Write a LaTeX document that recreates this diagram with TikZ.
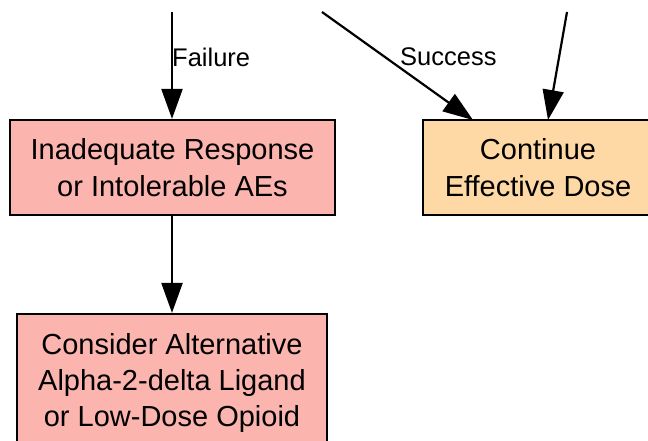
\documentclass[tikz,border=0pt]{standalone}
\usepackage{fontspec}
\setmainfont{Liberation Sans}
\usetikzlibrary{arrows.meta}

\definecolor{failpink}{HTML}{FBB4AE}
\definecolor{okorange}{HTML}{FED9A6}

\tikzset{
	box/.style={draw=black, line width=2.2pt, inner sep=0pt, align=center,
		font=\fontsize{29}{36.3}\selectfont},
	flow/.style={line width=2.2pt, -{Triangle[length=30pt, width=21pt]}},
	edgelab/.style={inner sep=0pt, anchor=west, font=\fontsize{25.5}{30}\selectfont}
}

\begin{document}
\begin{tikzpicture}[x=1pt, y=-1pt]
		%%%%% START %%%%%
		
		\useasboundingbox (0, 0) rectangle (648, 440);
		\clip (0, 0) rectangle (648, 440);
		
		\coordinate (failtop) at (172, 12);
		\coordinate (succtop) at (322, 12);
		\coordinate (righttop) at (567, 12);
		
		\node[box, fill=failpink, minimum width=325pt, minimum height=95pt] (inadequate) at (172.5, 167.5) {Inadequate Response\\or Intolerable AEs};
		\node[box, fill=okorange, minimum width=230pt, minimum height=95pt] (continue) at (538, 167.5) {Continue\\Effective Dose};
		\node[box, fill=failpink, minimum width=310pt, minimum height=138pt] (consider) at (172, 383) {Consider Alternative\\Alpha-2-delta Ligand\\or Low-Dose Opioid};
		
		\draw[flow] (failtop) -- (failtop |- inadequate.north);
		\draw[flow] (succtop) -- (473, 120);
		\draw[flow] (righttop) -- (548, 120);
		\draw[flow] (inadequate.south -| failtop) -- (consider.north -| failtop);
		
		\node[edgelab] (lfail) at (172, 57) {Failure};
		\node[edgelab] (lsucc) at (400, 57) {Success};
		
		%%%%% END %%%%%
	\end{tikzpicture}
\end{document}
